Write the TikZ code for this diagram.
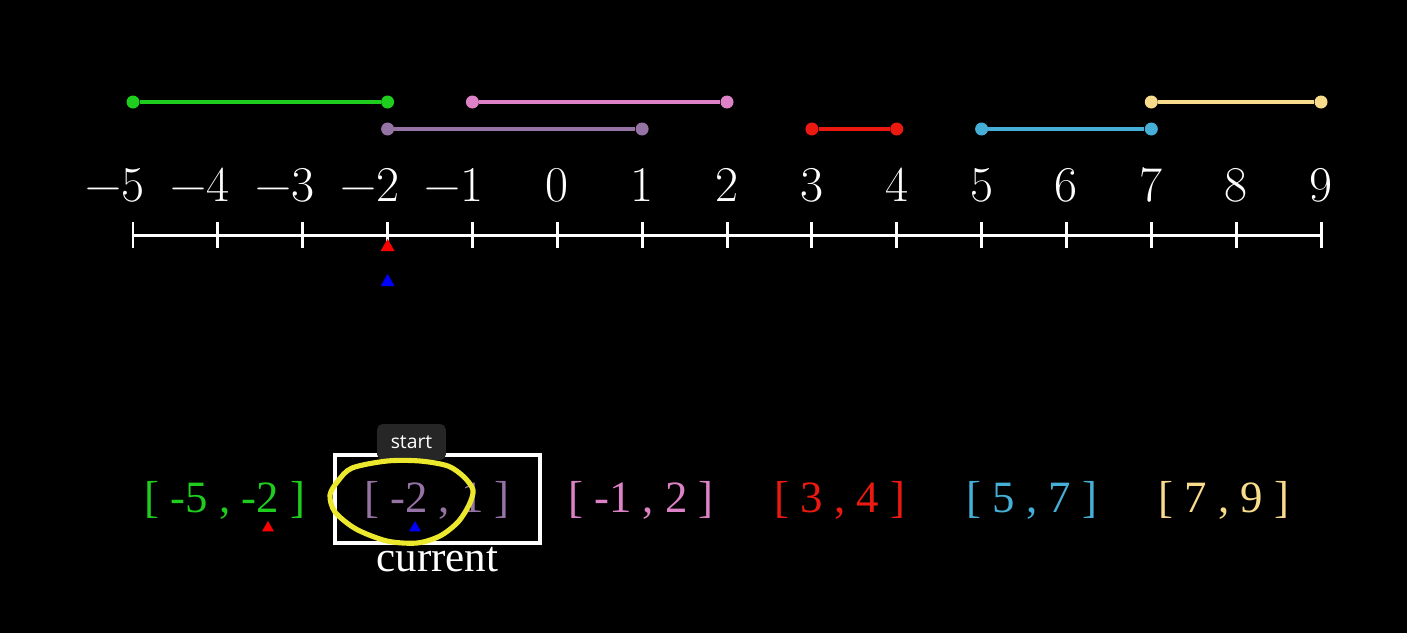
\documentclass[tikz,border=0pt]{standalone}
\usepackage[no-math]{fontspec}
\newfontfamily\timesfont{Liberation Serif}
\newfontfamily\uifont{Open Sans}
\usetikzlibrary{positioning,shapes.geometric}
\definecolor{ivgreen}{RGB}{30,205,30}
\definecolor{ivpurple}{RGB}{150,115,165}
\definecolor{ivpink}{RGB}{222,130,200}
\definecolor{ivred}{RGB}{235,25,15}
\definecolor{ivblue}{RGB}{70,175,215}
\definecolor{ivyellow}{RGB}{248,220,140}
\definecolor{tipgray}{RGB}{38,38,38}
\definecolor{hiyellow}{RGB}{235,232,45}
\begin{document}
\begin{tikzpicture}[x=0.02cm,y=-0.02cm]
			\tikzset{dot/.style={circle,fill,inner sep=0pt,minimum size=7.4pt}};
			\tikzset{seg/.style={line width=2.6pt}};
			\tikzset{tick/.style={fill=white,inner sep=0pt,minimum width=1.7pt,minimum height=14.8pt}};
			\tikzset{num/.style={anchor=base,text=white,inner sep=0pt,font=\fontsize{28.5}{30}\selectfont}};
			\tikzset{ptr/.style={regular polygon,regular polygon sides=3,inner sep=0pt,minimum size=9.2pt}};
			\tikzset{sptr/.style={regular polygon,regular polygon sides=3,inner sep=0pt,minimum size=7.9pt}};
			\tikzset{iv/.style={anchor=base,inner sep=0pt,font=\timesfont\fontsize{25.5}{28}\selectfont}};
			\tikzset{curbox/.style={draw=white,line width=2.3pt,inner sep=0pt,minimum width=116.6pt,minimum height=50pt}};
			\tikzset{tip/.style={fill=tipgray,rounded corners=3pt,text=white,inner sep=0pt,minimum width=39pt,minimum height=20.5pt,font=\uifont\fontsize{11}{13}\selectfont}};

			\fill[black] (0,0) rectangle (1407,633);
			\useasboundingbox (0,0) rectangle (1407,633);

			% intervals
			\node[dot,fill=ivgreen] (G1) at (133,102) {};
			\node[dot,fill=ivgreen] (G2) at (387.6,102) {};
			\node[dot,fill=ivpurple] (P1) at (387.6,129) {};
			\node[dot,fill=ivpurple] (P2) at (642.1,129) {};
			\node[dot,fill=ivpink] (K1) at (472.4,102) {};
			\node[dot,fill=ivpink] (K2) at (727,102) {};
			\node[dot,fill=ivred] (R1) at (811.9,129) {};
			\node[dot,fill=ivred] (R2) at (896.7,129) {};
			\node[dot,fill=ivblue] (B1) at (981.6,129) {};
			\node[dot,fill=ivblue] (B2) at (1151.3,129) {};
			\node[dot,fill=ivyellow] (Y1) at (1151.3,102) {};
			\node[dot,fill=ivyellow] (Y2) at (1321,102) {};

			\draw[seg,ivgreen] (G1) -- (G2);
			\draw[seg,ivpurple] (P1) -- (P2);
			\draw[seg,ivpink] (K1) -- (K2);
			\draw[seg,ivred] (R1) -- (R2);
			\draw[seg,ivblue] (B1) -- (B2);
			\draw[seg,ivyellow] (Y1) -- (Y2);

			% number line
			\node[tick] (tm5) at (133,235) {};
			\node[tick] (tm4) at (217.9,235) {};
			\node[tick] (tm3) at (302.7,235) {};
			\node[tick] (tm2) at (387.6,235) {};
			\node[tick] (tm1) at (472.4,235) {};
			\node[tick] (t0) at (557.3,235) {};
			\node[tick] (t1) at (642.1,235) {};
			\node[tick] (t2) at (727,235) {};
			\node[tick] (t3) at (811.9,235) {};
			\node[tick] (t4) at (896.7,235) {};
			\node[tick] (t5) at (981.6,235) {};
			\node[tick] (t6) at (1066.4,235) {};
			\node[tick] (t7) at (1151.3,235) {};
			\node[tick] (t8) at (1236.1,235) {};
			\node[tick] (t9) at (1321,235) {};
			\draw[white,line width=1.7pt] (tm5.center) -- (t9.center);

			\node[num] (nm5) at (133,201) {\llap{−}5};
			\node[num] (nm4) at (217.9,201) {\llap{−}4};
			\node[num] (nm3) at (302.7,201) {\llap{−}3};
			\node[num] (nm2) at (387.6,201) {\llap{−}2};
			\node[num] (nm1) at (472.4,201) {\llap{−}1};
			\node[num] (n0) at (557.3,201) {0};
			\node[num] (n1) at (642.1,201) {1};
			\node[num] (n2) at (727,201) {2};
			\node[num] (n3) at (811.9,201) {3};
			\node[num] (n4) at (896.7,201) {4};
			\node[num] (n5) at (981.6,201) {5};
			\node[num] (n6) at (1066.4,201) {6};
			\node[num] (n7) at (1151.3,201) {7};
			\node[num] (n8) at (1236.1,201) {8};
			\node[num] (n9) at (1321,201) {9};

			\node[ptr,fill=red] (pr) at (387.6,247) {};
			\node[ptr,fill=blue] (pb) at (387.6,282) {};

			% interval list
			\node[iv,text=ivgreen] (L1) at (225,512) {[ -5 , -2 ]};
			\node[iv,text=ivpurple] (L2) at (437,512) {[ -2 , 1 ]};
			\node[iv,text=ivpink] (L3) at (641,512) {[ -1 , 2 ]};
			\node[iv,text=ivred] (L4) at (840,512) {[ 3 , 4 ]};
			\node[iv,text=ivblue] (L5) at (1032,512) {[ 5 , 7 ]};
			\node[iv,text=ivyellow] (L6) at (1224,512) {[ 7 , 9 ]};

			\node[curbox] (cur) at (437.5,499) {};
			\node[iv,anchor=north,text=white,font=\timesfont\fontsize{24.5}{26}\selectfont,below=1pt of cur] (curlbl) {current};
			\node[tip] (start) at (411.5,442) {start};

			\draw[hiyellow,line width=2.9pt] plot[smooth cycle] coordinates {(338,481) (352,468) (387,461) (420,461) (448,466) (464,477) (473,490) (469,505) (458,522) (440,536) (417,543) (387,541) (356,529) (335,512) (330,495)};

			\node[sptr,fill=red] (sr) at (268,528) {};
			\node[sptr,fill=blue] (sb) at (415,528) {};
		\end{tikzpicture}
\end{document}
